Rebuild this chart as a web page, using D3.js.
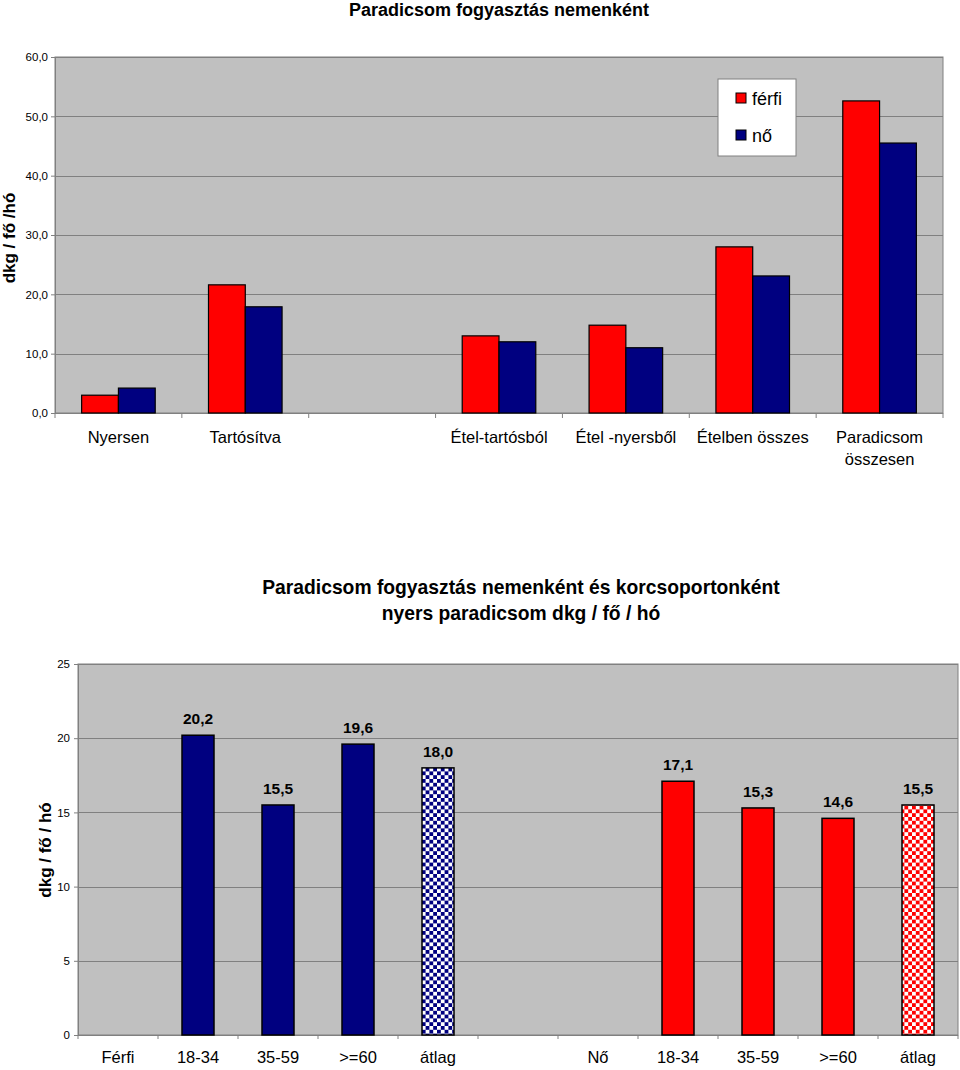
<!DOCTYPE html>
<html>
<head>
<meta charset="utf-8">
<script src="https://cdn.jsdelivr.net/npm/d3@7"></script>
<style>
  html, body { margin: 0; padding: 0; background: #fff; }
  svg { display: block; font-family: "Liberation Sans", Arial, sans-serif; }
</style>
</head>
<body>
<svg id="chart" width="960" height="1070"></svg>
<script>
// ---------- Data: top chart ----------
const topTitle = "Paradicsom fogyasztás nemenként";
const topCategories = ["Nyersen", "Tartósítva", "", "Étel-tartósból", "Étel -nyersből", "Ételben összes", "Paradicsom\nösszesen"];
const ferfiValues = [3.0, 21.6, null, 13.0, 14.8, 28.0, 52.6];
const noValues    = [4.2, 17.9, null, 12.0, 11.0, 23.1, 45.5];
const topTicks = [0, 10, 20, 30, 40, 50, 60];
const seriesNames = ["férfi", "nő"];
const topYLabel = "dkg / fő /hó";

// ---------- Data: bottom chart ----------
const bottomTitle = ["Paradicsom fogyasztás nemenként és korcsoportonként", "nyers paradicsom dkg / fő / hó"];
const ageCategories = ["Férfi", "18-34", "35-59", ">=60", "átlag", "", "Nő", "18-34", "35-59", ">=60", "átlag"];
const ageValues     = [null, 20.2, 15.5, 19.6, 18.0, null, null, 17.1, 15.3, 14.6, 15.5];
const ageSeries     = [null, "férfi", "férfi", "férfi", "férfi", null, null, "nő", "nő", "nő", "nő"];
const ageIsAverage  = [false, false, false, false, true, false, false, false, false, false, true];
const bottomTicks = [0, 5, 10, 15, 20, 25];
const bottomYLabel = "dkg / fő / hó";

// ---------- Styles ----------
const RED = "#FF0000", NAVY = "#000080", PLOT_BG = "#C0C0C0", GRID = "#808080";
const fmt1 = v => d3.format(".1f")(v).replace(".", ",");

const svg = d3.select("#chart");

// Patterns
const defs = svg.append("defs");
function checker(id, color) {
  const s = 3.8;
  const p = defs.append("pattern").attr("id", id).attr("patternUnits", "userSpaceOnUse")
    .attr("width", 2 * s).attr("height", 2 * s);
  p.append("rect").attr("width", 2 * s).attr("height", 2 * s).attr("fill", "#fff");
  p.append("rect").attr("x", 0).attr("y", 0).attr("width", s).attr("height", s).attr("fill", color);
  p.append("rect").attr("x", s).attr("y", s).attr("width", s).attr("height", s).attr("fill", color);
}
checker("chkNavy", NAVY);
checker("chkRed", RED);

// ================= TOP CHART =================
{
  const L = 55, R = 943, T = 57, B = 413;
  const x0 = d3.scaleBand().domain(d3.range(topCategories.length)).range([L, R]).paddingInner(0).paddingOuter(0);
  const groupW = x0.bandwidth() * 0.58;
  const x1 = d3.scaleBand().domain(seriesNames).range([0, groupW]);
  const y = d3.scaleLinear().domain([0, 60]).range([B, T]);
  const color = d3.scaleOrdinal().domain(seriesNames).range([RED, NAVY]);

  svg.append("text").attr("x", 499).attr("y", 16).attr("text-anchor", "middle")
    .attr("font-size", 18).attr("font-weight", "bold").text(topTitle);

  const g = svg.append("g");
  g.append("rect").attr("x", L).attr("y", T).attr("width", R - L).attr("height", B - T)
    .attr("fill", PLOT_BG).attr("stroke", GRID).attr("stroke-width", 1);

  g.selectAll("line.grid").data(topTicks.filter(t => t > 0)).join("line")
    .attr("x1", L).attr("x2", R).attr("y1", d => Math.round(y(d)) + 0.5).attr("y2", d => Math.round(y(d)) + 0.5)
    .attr("stroke", GRID).attr("stroke-width", 1);

  // y axis
  const yAxis = d3.axisLeft(y).tickValues(topTicks).tickFormat(fmt1).tickSize(4).tickPadding(3);
  const ya = g.append("g").attr("transform", `translate(${L},0)`).call(yAxis);
  ya.select(".domain").attr("stroke", GRID);
  ya.selectAll(".tick line").attr("stroke", GRID);
  ya.selectAll("text").attr("font-size", 11.5).attr("fill", "#000").attr("font-family", "Liberation Sans, Arial, sans-serif");

  // x axis baseline and ticks
  g.append("line").attr("x1", L).attr("x2", R).attr("y1", B + 0.5).attr("y2", B + 0.5).attr("stroke", GRID);
  g.selectAll("line.xt").data(d3.range(topCategories.length + 1)).join("line")
    .attr("x1", d => d === topCategories.length ? R : x0(d)).attr("x2", d => d === topCategories.length ? R : x0(d))
    .attr("y1", B).attr("y2", B + 5).attr("stroke", GRID);

  // bars
  const rows = [];
  topCategories.forEach((c, i) => {
    [ferfiValues[i], noValues[i]].forEach((v, k) => {
      if (v != null) rows.push({ i, s: seriesNames[k], v });
    });
  });
  g.selectAll("rect.bar").data(rows).join("rect")
    .attr("x", d => x0(d.i) + (x0.bandwidth() - groupW) / 2 + x1(d.s))
    .attr("y", d => y(d.v))
    .attr("width", x1.bandwidth())
    .attr("height", d => y(0) - y(d.v))
    .attr("fill", d => color(d.s)).attr("stroke", "#000").attr("stroke-width", 1.2);

  // x labels
  topCategories.forEach((c, i) => {
    const lines = c.split("\n");
    const t = g.append("text").attr("text-anchor", "middle").attr("font-size", 16.5).attr("fill", "#000");
    lines.forEach((ln, k) => {
      t.append("tspan").attr("x", x0(i) + x0.bandwidth() / 2).attr("y", 443 + k * 22).text(ln);
    });
  });

  // y label
  svg.append("text").attr("transform", `translate(15,238) rotate(-90)`).attr("text-anchor", "middle")
    .attr("font-size", 17).attr("font-weight", "bold").text(topYLabel);

  // legend
  const lg = svg.append("g").attr("transform", "translate(718,79)");
  lg.append("rect").attr("width", 78).attr("height", 77).attr("fill", "#fff").attr("stroke", GRID);
  seriesNames.forEach((s, k) => {
    const yy = 20 + k * 37;
    lg.append("rect").attr("x", 18).attr("y", yy - 6).attr("width", 10).attr("height", 10)
      .attr("fill", color(s)).attr("stroke", "#000");
    lg.append("text").attr("x", 34).attr("y", yy + 6).attr("font-size", 18).text(s);
  });
}

// ================= BOTTOM CHART =================
{
  const L = 78, R = 958, T = 664, B = 1035;
  const x = d3.scaleBand().domain(d3.range(ageCategories.length)).range([L, R]).paddingInner(0.6).paddingOuter(0.3);
  const xb = d3.scaleBand().domain(d3.range(ageCategories.length)).range([L, R]);
  const y = d3.scaleLinear().domain([0, 25]).range([B, T]);

  const tt = svg.append("text").attr("text-anchor", "middle").attr("font-size", 19.3).attr("font-weight", "bold");
  bottomTitle.forEach((ln, k) => tt.append("tspan").attr("x", 521).attr("y", 594 + k * 26).text(ln));

  const g = svg.append("g");
  g.append("rect").attr("x", L).attr("y", T).attr("width", R - L).attr("height", B - T)
    .attr("fill", PLOT_BG).attr("stroke", GRID).attr("stroke-width", 1);
  g.selectAll("line.grid").data(bottomTicks.filter(t => t > 0)).join("line")
    .attr("x1", L).attr("x2", R).attr("y1", d => Math.round(y(d)) + 0.5).attr("y2", d => Math.round(y(d)) + 0.5)
    .attr("stroke", GRID).attr("stroke-width", 1);

  const yAxis = d3.axisLeft(y).tickValues(bottomTicks).tickFormat(d3.format("d")).tickSize(4).tickPadding(4);
  const ya = g.append("g").attr("transform", `translate(${L},0)`).call(yAxis);
  ya.select(".domain").attr("stroke", GRID);
  ya.selectAll(".tick line").attr("stroke", GRID);
  ya.selectAll("text").attr("font-size", 11.5).attr("fill", "#000").attr("font-family", "Liberation Sans, Arial, sans-serif");

  g.append("line").attr("x1", L).attr("x2", R).attr("y1", B + 0.5).attr("y2", B + 0.5).attr("stroke", GRID);
  g.selectAll("line.xt").data(d3.range(ageCategories.length + 1)).join("line")
    .attr("x1", d => d === ageCategories.length ? R : xb(d)).attr("x2", d => d === ageCategories.length ? R : xb(d))
    .attr("y1", B).attr("y2", B + 4).attr("stroke", GRID);

  const rows = ageValues.map((v, i) => ({ i, v, s: ageSeries[i], avg: ageIsAverage[i] })).filter(d => d.v != null);
  g.selectAll("rect.bar").data(rows).join("rect")
    .attr("x", d => x(d.i))
    .attr("y", d => y(d.v))
    .attr("width", x.bandwidth())
    .attr("height", d => y(0) - y(d.v))
    .attr("fill", d => d.avg ? (d.s === "férfi" ? "url(#chkNavy)" : "url(#chkRed)") : (d.s === "férfi" ? NAVY : RED))
    .attr("stroke", "#000").attr("stroke-width", 1.5);

  g.selectAll("text.val").data(rows).join("text")
    .attr("x", d => x(d.i) + x.bandwidth() / 2).attr("y", d => y(d.v) - 11)
    .attr("text-anchor", "middle").attr("font-size", 15.5).attr("font-weight", "bold")
    .text(d => fmt1(d.v));

  g.selectAll("text.xl").data(ageCategories).join("text")
    .attr("x", (d, i) => xb(i) + xb.bandwidth() / 2).attr("y", 1063)
    .attr("text-anchor", "middle").attr("font-size", 16.5).text(d => d);

  svg.append("text").attr("transform", `translate(51,850) rotate(-90)`).attr("text-anchor", "middle")
    .attr("font-size", 17).attr("font-weight", "bold").text(bottomYLabel);
}
</script>
</body>
</html>
